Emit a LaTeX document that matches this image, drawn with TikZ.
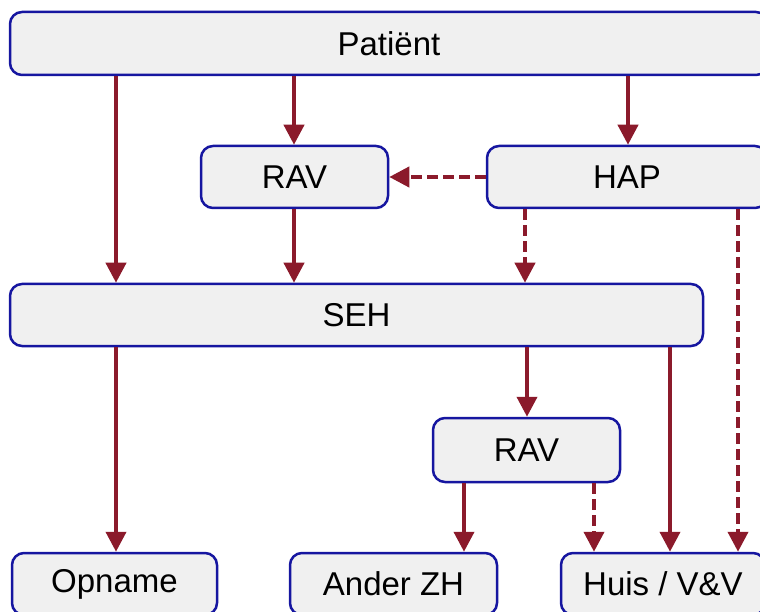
\documentclass[tikz,border=0pt]{standalone}
\usepackage{fontspec}
\setmainfont{Liberation Sans}
\usetikzlibrary{arrows.meta}
\definecolor{boxfill}{HTML}{F0F0F0}
\definecolor{boxline}{HTML}{1616A0}
\definecolor{arrred}{HTML}{8B1A2B}
\tikzset{
  box/.style={draw=boxline, fill=boxfill, line width=2.5pt, rounded corners=12pt,
    inner sep=0pt, font=\fontsize{33}{36}\selectfont},
  arr/.style={draw=arrred, line width=4pt, -{Triangle[length=20pt,width=20pt]}},
  darr/.style={arr, dash pattern=on 11pt off 5pt},
}
\begin{document}
\begin{tikzpicture}[x=1pt,y=-1pt]
\useasboundingbox (0,0) rectangle (760,612);
\node[box, minimum width=758pt, minimum height=63pt] (pat) at (389,43.5) {Patiënt};
\node[box, minimum width=187pt, minimum height=62pt] (rav1) at (294.5,177) {RAV};
\node[box, minimum width=280pt, minimum height=62pt] (hap) at (627,177) {HAP};
\node[box, minimum width=693pt, minimum height=62pt] (seh) at (356.5,315) {SEH};
\node[box, minimum width=187pt, minimum height=64pt] (rav2) at (526.5,450) {RAV};
\node[box, minimum width=205pt, minimum height=62pt] (opn) at (114.5,584) {Opname};
\node[box, minimum width=207pt, minimum height=62pt] (azh) at (393.5,584) {Ander ZH};
\node[box, minimum width=204pt, minimum height=62pt] (huis) at (663,584) {Huis / V\&V};

\draw[arr] (pat.south -| 116,0) -- (seh.north -| 116,0);
\draw[arr] (pat.south -| 294,0) -- (rav1.north -| 294,0);
\draw[arr] (pat.south -| 628,0) -- (hap.north -| 628,0);
\draw[darr] (hap.west) -- (rav1.east);
\draw[darr] (hap.south -| 525,0) -- (seh.north -| 525,0);
\draw[darr] (hap.south -| 738,0) -- (huis.north -| 738,0);
\draw[arr] (rav1.south -| 294,0) -- (seh.north -| 294,0);
\draw[arr] (seh.south -| 116,0) -- (opn.north -| 116,0);
\draw[arr] (seh.south -| 527,0) -- (rav2.north -| 527,0);
\draw[arr] (seh.south -| 670,0) -- (huis.north -| 670,0);
\draw[arr] (rav2.south -| 464,0) -- (azh.north -| 464,0);
\draw[darr] (rav2.south -| 594,0) -- (huis.north -| 594,0);
\end{tikzpicture}
\end{document}
